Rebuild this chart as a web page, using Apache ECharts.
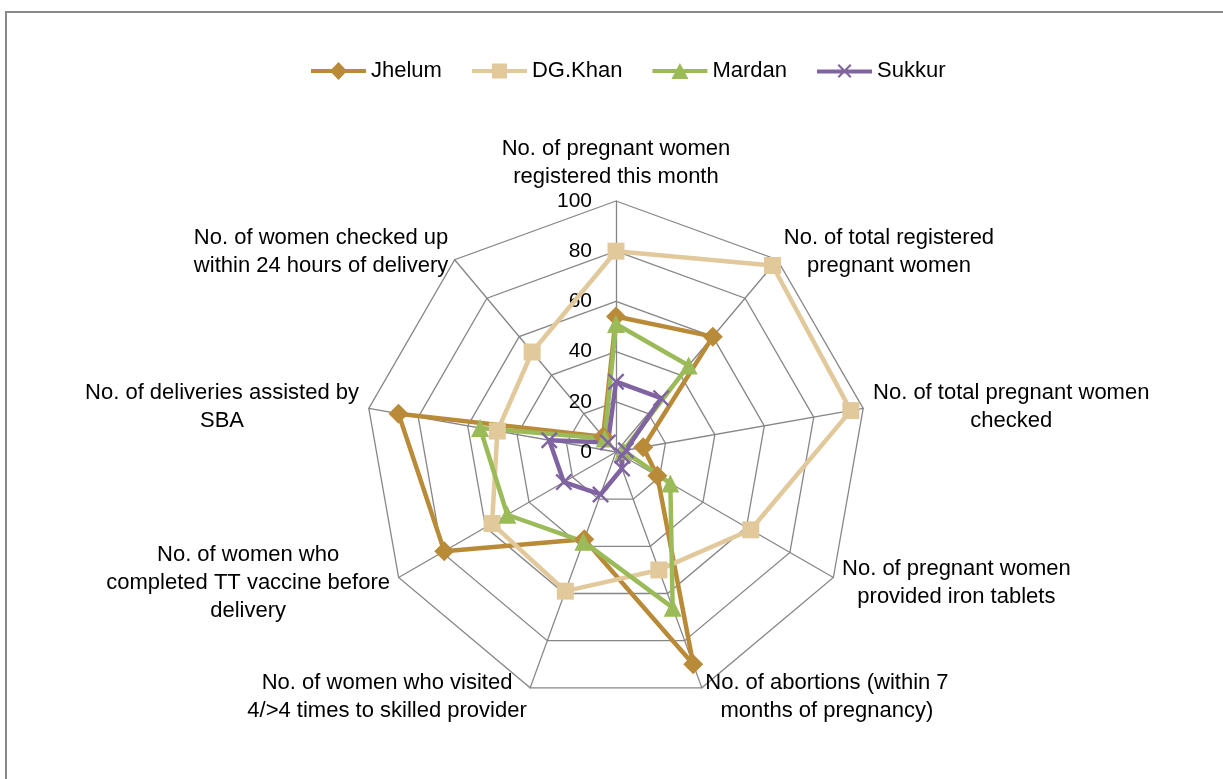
<!DOCTYPE html>
<html>
<head>
<meta charset="utf-8">
<script src="https://cdn.jsdelivr.net/npm/echarts@6/dist/echarts.min.js"></script>
<style>
  html, body { margin: 0; padding: 0; background: #fff; }
  #main { width: 1223px; height: 779px; }
</style>
</head>
<body>
<div id="main"></div>
<script>
// indicators, clockwise from the top
const indicators = [
  "No. of pregnant women\nregistered this month",
  "No. of total registered\npregnant women",
  "No. of total pregnant women\nchecked",
  "No. of pregnant women\nprovided iron tablets",
  "No. of abortions (within 7\nmonths of pregnancy)",
  "No. of women who visited\n4/>4 times to skilled provider",
  "No. of women who\ncompleted TT vaccine before\ndelivery",
  "No. of deliveries assisted by\nSBA",
  "No. of women checked up\nwithin 24 hours of delivery"
]
const seriesNames = ["Jhelum", "DG.Khan", "Mardan", "Sukkur"]
const jhelum = [54, 60, 11, 19, 90, 37, 79, 88, 8]
const dgKhan = [80, 97, 95, 62, 50, 59, 57, 48, 52]
const mardan = [51, 45, 3, 25, 66, 38, 50, 55, 7]
const sukkur = [28, 28, 4, 3, 7, 18, 24, 27, 5]

const font = "'Liberation Sans', Arial, sans-serif"
const colors = ["#B98A37", "#E2C99B", "#9BBB59", "#8064A2"]
const xPath = "path://M0,1 L1,0 L5,4 L9,0 L10,1 L6,5 L10,9 L9,10 L5,6 L1,10 L0,9 L4,5 Z"
const symbols = ["diamond", "rect", "triangle", xPath]
const symbolSizes = [20, 17, 18, 17]

// legend icons: line with the marker on it
const line = "M0,7 L55,7 L55,11 L0,11 Z "
const legendIcons = [
  "path://" + line + "M27.5,0 L36,9 L27.5,18 L19,9 Z",
  "path://" + line + "M20,1.5 L35,1.5 L35,16.5 L20,16.5 Z",
  "path://" + line + "M27.5,1 L36,17 L19,17 Z",
  "path://" + line + "M20.5,3 L22,1.5 L27.5,7 L33,1.5 L34.5,3 L29,8.5 L34.5,14 L33,15.5 L27.5,10 L22,15.5 L20.5,14 L26,8.5 Z"
]

// echarts lays radar axes out counter-clockwise, the picture goes clockwise
const order = indicators.map((d, i) => (indicators.length - i) % indicators.length)
const pick = arr => order.map(i => arr[i])
const allValues = [jhelum, dgKhan, mardan, sukkur]

const myChart = echarts.init(document.getElementById("main"))

myChart.setOption({
  backgroundColor: "#fff",
  textStyle: { fontFamily: font },
  graphic: [
    {
      type: "rect",
      shape: { x: 6, y: 12, width: 1300, height: 900 },
      style: { fill: "none", stroke: "#898989", lineWidth: 2 },
      silent: true
    }
  ],
  legend: {
    left: 306,
    top: 55,
    itemWidth: 55,
    itemHeight: 18,
    itemGap: 30,
    textStyle: { fontSize: 22, color: "#000", fontFamily: font },
    data: seriesNames.map((n, i) => ({ name: n, icon: legendIcons[i], itemStyle: { color: colors[i], borderWidth: 0 } }))
  },
  radar: {
    center: [616, 452],
    radius: 251,
    shape: "polygon",
    splitNumber: 5,
    axisNameGap: 10,
    axisName: {
      color: "#000",
      fontSize: 22,
      fontFamily: font,
      formatter: v => v.split("\n").map(s => "{c|" + s + "}").join("\n"),
      rich: {
        c: { align: "center", fontSize: 22, lineHeight: 28, fontFamily: font, color: "#000" }
      }
    },
    axisLine: { lineStyle: { color: "#868686", width: 1.3 } },
    splitLine: { lineStyle: { color: "#868686", width: 1.3 } },
    splitArea: { show: false },
    axisLabel: { show: false },
    indicator: pick(indicators).map((n, i) => {
      const o = { name: n, min: 0, max: 100 }
      if (i === 0) {
        o.axisLabel = { show: true, color: "#000", fontSize: 21, fontFamily: font, margin: 24 }
      }
      return o
    })
  },
  series: seriesNames.map((n, i) => ({
    type: "radar",
    name: n,
    symbol: symbols[i],
    symbolSize: symbolSizes[i],
    lineStyle: { color: colors[i], width: 4.5 },
    itemStyle: { color: colors[i] },
    data: [{ name: n, value: pick(allValues[i]) }]
  }))
})
</script>
</body>
</html>
